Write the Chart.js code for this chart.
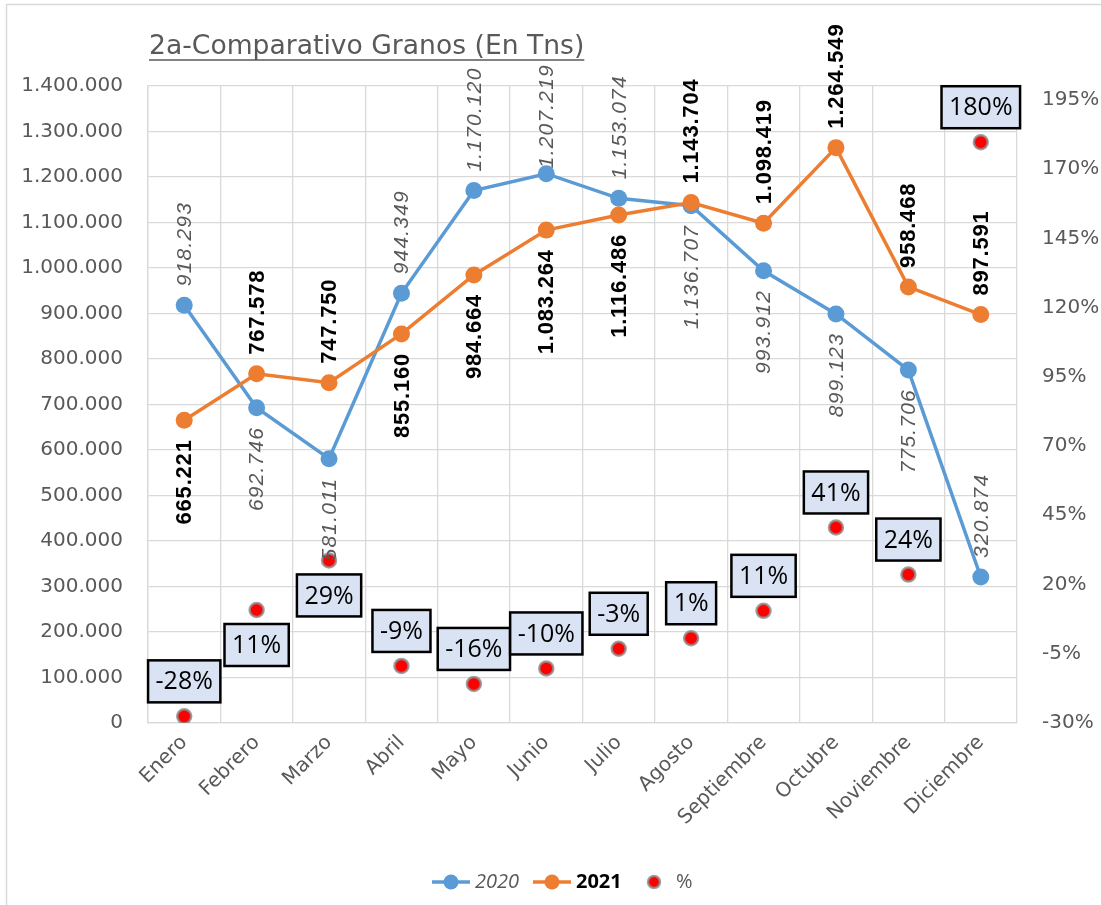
<!DOCTYPE html>
<html>
<head>
<meta charset="utf-8">
<title>2a-Comparativo Granos (En Tns)</title>
<script src="https://cdn.jsdelivr.net/npm/chart.js@4/dist/chart.umd.min.js"></script>
<style>
  body { margin: 0; background: #fff; }
  #wrap { width: 1101px; height: 905px; }
</style>
</head>
<body>
<div id="wrap"><canvas id="myChart" width="1101" height="905"></canvas></div>
<script>
// --- data ---
const months = ["Enero", "Febrero", "Marzo", "Abril", "Mayo", "Junio", "Julio",
  "Agosto", "Septiembre", "Octubre", "Noviembre", "Diciembre"];
const tons2020 = [918293, 692746, 581011, 944349, 1170120, 1207219, 1153074,
  1136707, 993912, 899123, 775706, 320874];
const tons2021 = [665221, 767578, 747750, 855160, 984664, 1083264, 1116486,
  1143704, 1098419, 1264549, 958468, 897591];
const changePct = [-27.6, 10.8, 28.7, -9.4, -15.9, -10.3, -3.2, 0.6, 10.5, 40.6, 23.6, 179.7];
const leftTicks = [0, 100000, 200000, 300000, 400000, 500000, 600000, 700000,
  800000, 900000, 1000000, 1100000, 1200000, 1300000, 1400000];
const rightTicks = [-30, -5, 20, 45, 70, 95, 120, 145, 170, 195];

// where each data label sits relative to its point
const place2020 = ["up", "down", "down", "up", "up", "up", "up", "down", "down", "down", "down", "up"];
const place2021 = ["down", "up", "up", "down", "down", "down", "down", "up", "up", "up", "up", "up"];
const placePct = ["up", "down", "down", "up", "up", "up", "up", "up", "up", "up", "up", "up"];

const GRAY = "#595959";
const GRID = "#d9d9d9";
const BLUE = "#5b9bd5";
const ORANGE = "#ed7d31";
const SANS = "'Open Sans', 'Liberation Sans', sans-serif";
const AXIS = "'DejaVu Sans', sans-serif";
const TITLE_RIGHT = 149 + 436;

function fmt(v) {
  return Math.round(v).toString().replace(/\B(?=(\d{3})+(?!\d))/g, ".");
}

// rotated value labels for the two line series
function drawVertical(ctx, meta, values, places, font, color, spacing) {
  ctx.save();
  ctx.font = font;
  ctx.fillStyle = color;
  ctx.textBaseline = "middle";
  if ("letterSpacing" in ctx) ctx.letterSpacing = spacing;
  meta.data.forEach(function (pt, i) {
    const txt = fmt(values[i]);
    ctx.save();
    ctx.translate(pt.x + 1, pt.y);
    ctx.rotate(-Math.PI / 2);
    if (places[i] === "up") {
      let start = 19;
      // labels under the title are kept below its underline
      if (pt.x < TITLE_RIGHT) {
        start = Math.min(19, pt.y - 64 - ctx.measureText(txt).width);
      }
      ctx.textAlign = "left";
      ctx.fillText(txt, start, 0);
    } else {
      ctx.textAlign = "right";
      ctx.fillText(txt, -19, 0);
    }
    ctx.restore();
  });
  ctx.restore();
}

const labelPlugin = {
  id: "excelLabels",
  afterDatasetsDraw(chart) {
    const ctx = chart.ctx;
    drawVertical(ctx, chart.getDatasetMeta(0), tons2020, place2020,
      "italic 21px 'Liberation Sans'", GRAY, "1.2px");
    drawVertical(ctx, chart.getDatasetMeta(1), tons2021, place2021,
      "bold 22px 'Liberation Sans'", "#000", "0.8px");

    // boxed percent labels
    ctx.save();
    ctx.font = "25px " + SANS;
    ctx.textAlign = "center";
    ctx.textBaseline = "middle";
    chart.getDatasetMeta(2).data.forEach(function (pt, i) {
      const txt = Math.round(changePct[i]) + "%";
      const w = ctx.measureText(txt).width + 15;
      const h = 42;
      const top = placePct[i] === "up" ? pt.y - 14 - h : pt.y + 14;
      ctx.fillStyle = "#dae3f3";
      ctx.fillRect(pt.x - w / 2, top, w, h);
      ctx.lineWidth = 2.5;
      ctx.strokeStyle = "#000";
      ctx.strokeRect(pt.x - w / 2, top, w, h);
      ctx.fillStyle = "#000";
      ctx.fillText(txt, pt.x, top + h / 2 + 1);
    });
    ctx.restore();
  },
  afterDraw(chart) {
    const ctx = chart.ctx;
    ctx.save();
    // frame (only top and left edge are visible)
    ctx.strokeStyle = GRID;
    ctx.lineWidth = 1.5;
    ctx.strokeRect(6.5, 4.5, 1200, 1000);

    // title, underlined
    const title = "2a-Comparativo Granos (En Tns)";
    ctx.font = "28px " + AXIS;
    const size = 28 * 436 / ctx.measureText(title).width;
    ctx.font = size.toFixed(1) + "px " + AXIS;
    ctx.fillStyle = GRAY;
    ctx.textAlign = "left";
    ctx.textBaseline = "alphabetic";
    ctx.fillText(title, 149, 54);
    ctx.strokeStyle = GRAY;
    ctx.lineWidth = 1.5;
    ctx.beginPath();
    ctx.moveTo(149, 60);
    ctx.lineTo(149 + ctx.measureText(title).width, 60);
    ctx.stroke();

    // legend
    const ly = 882;
    ctx.textBaseline = "middle";
    [[432, BLUE, "2020", "italic 20px " + SANS, GRAY],
     [533, ORANGE, "2021", "bold 20px " + SANS, "#000"]].forEach(function (it) {
      ctx.strokeStyle = it[1];
      ctx.lineWidth = 3.5;
      ctx.beginPath();
      ctx.moveTo(it[0], ly);
      ctx.lineTo(it[0] + 38, ly);
      ctx.stroke();
      ctx.fillStyle = it[1];
      ctx.beginPath();
      ctx.arc(it[0] + 19, ly, 7.5, 0, Math.PI * 2);
      ctx.fill();
      ctx.font = it[3];
      ctx.fillStyle = it[4];
      ctx.fillText(it[2], it[0] + 43, ly);
    });
    ctx.beginPath();
    ctx.arc(654, ly, 6, 0, Math.PI * 2);
    ctx.fillStyle = "red";
    ctx.fill();
    ctx.lineWidth = 2.5;
    ctx.strokeStyle = "rgba(140,140,140,0.8)";
    ctx.stroke();
    ctx.font = "20px " + SANS;
    ctx.fillStyle = GRAY;
    ctx.fillText("%", 676, ly);
    ctx.restore();
  }
};

const ctx = document.getElementById("myChart").getContext("2d");
const myChart = new Chart(ctx, {
  type: "line",
  data: {
    labels: months,
    datasets: [
      {
        label: "2020",
        data: tons2020,
        yAxisID: "y",
        borderColor: BLUE,
        backgroundColor: BLUE,
        borderWidth: 3.5,
        pointRadius: 8.5,
        pointBorderWidth: 0,
        pointBackgroundColor: BLUE,
        order: 2,
      },
      {
        label: "2021",
        data: tons2021,
        yAxisID: "y",
        borderColor: ORANGE,
        backgroundColor: ORANGE,
        borderWidth: 3.5,
        pointRadius: 8.5,
        pointBorderWidth: 0,
        pointBackgroundColor: ORANGE,
        order: 1,
      },
      {
        label: "%",
        data: changePct,
        yAxisID: "y1",
        showLine: false,
        pointRadius: 7,
        pointBackgroundColor: "red",
        pointBorderColor: "rgba(140,140,140,0.8)",
        pointBorderWidth: 2.5,
        order: 0,
      },
    ],
  },
  options: {
    responsive: false,
    animation: false,
    devicePixelRatio: 1,
    layout: { padding: { top: 86, left: 0, right: 0, bottom: 0 } },
    plugins: {
      legend: { display: false },
      title: { display: false },
      tooltip: { enabled: false },
    },
    scales: {
      x: {
        offset: true,
        grid: { offset: true, color: GRID, lineWidth: 1.3, drawTicks: false },
        border: { color: GRID, width: 1.3 },
        ticks: {
          color: GRAY,
          font: { family: AXIS, size: 20 },
          maxRotation: 45,
          minRotation: 45,
          padding: 8,
        },
        afterFit: function (scale) { scale.height = 182; },
      },
      y: {
        position: "left",
        min: 0,
        max: 1400000,
        grid: { color: GRID, lineWidth: 1.3, drawTicks: false },
        border: { color: GRID, width: 1.3 },
        ticks: {
          color: GRAY,
          font: { family: AXIS, size: 20 },
          padding: 25,
          callback: function (v) { return fmt(v); },
        },
        afterBuildTicks: function (scale) {
          scale.ticks = leftTicks.map(function (v) { return { value: v }; });
        },
        afterFit: function (scale) { scale.width = 148; },
      },
      y1: {
        position: "right",
        min: -30,
        max: 200,
        grid: { display: false, drawTicks: false },
        border: { display: false },
        ticks: {
          color: GRAY,
          font: { family: AXIS, size: 20 },
          padding: 25,
          callback: function (v) { return v + "%"; },
        },
        afterBuildTicks: function (scale) {
          scale.ticks = rightTicks.map(function (v) { return { value: v }; });
        },
        afterFit: function (scale) { scale.width = 84; },
      },
    },
  },
  plugins: [labelPlugin],
});
</script>
</body>
</html>
